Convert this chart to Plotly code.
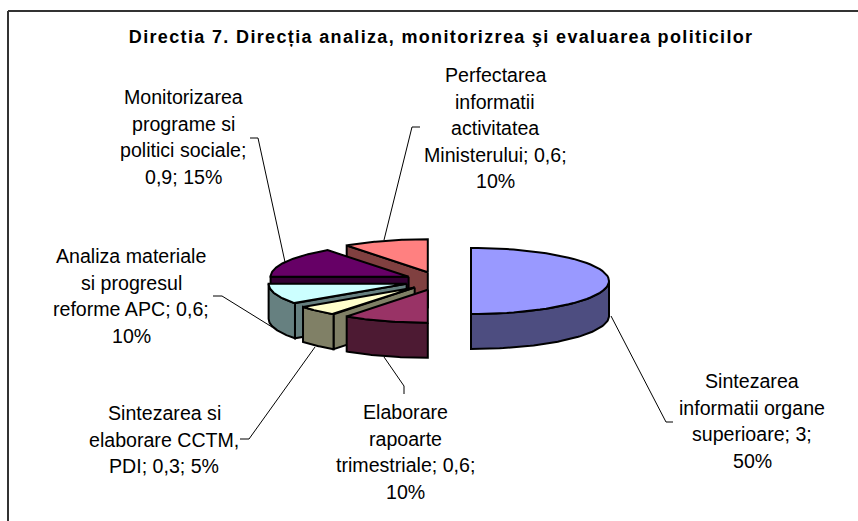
import math
import plotly.graph_objects as go

# ---- data ----
names = ["Sintezarea informatii organe superioare", "Elaborare rapoarte trimestriale",
         "Sintezarea si elaborare CCTM, PDI", "Analiza materiale si progresul reforme APC",
         "Monitorizarea programe si politici sociale", "Perfectarea informatii activitatea Ministerului"]
values = [3, 0.6, 0.3, 0.6, 0.9, 0.6]
top_colors = ["#9999FF", "#993366", "#FFFFCC", "#CCFFFF", "#660066", "#FF8080"]
side_colors = ["#4D4D80", "#4D1A33", "#808066", "#668080", "#330033", "#804040"]
label_lines = [
    ["Sintezarea", "informatii organe", "superioare; 3;", "50%"],
    ["Elaborare", "rapoarte", "trimestriale; 0,6;", "10%"],
    ["Sintezarea si", "elaborare CCTM,", "PDI; 0,3; 5%"],
    ["Analiza materiale", "si progresul", "reforme APC; 0,6;", "10%"],
    ["Monitorizarea", "programe si", "politici sociale;", "0,9; 15%"],
    ["Perfectarea", "informatii", "activitatea", "Ministerului; 0,6;", "10%"],
]
title_text = "Directia 7. Direcția analiza, monitorizrea şi evaluarea politicilor"

# ---- layout settings ----
W, H = 858, 521
CX, CY = 438, 281      # pie centre in pixels
RX, RY = 138, 33       # ellipse radii
DEPTH = 35             # wall height
EXPLODE = 33           # explosion distance
EXPLODE_Y = 0.28
FONT = "Liberation Sans"
LABEL_SIZE = 19.6
LINE_H = 26.6
label_pos = [(752, 381), (405, 412), (164, 413), (131, 256), (183, 97), (495, 75)]
leaders = [
    [(611, 316), (666, 422), (673, 422)],
    [(384, 357), (404, 386), (404, 394)],
    [(315, 347), (249, 439), (240, 439)],
    [(272, 327), (222, 296), (213, 296)],
    [(285, 262), (258, 138), (250, 138)],
    [(384, 240), (412, 127), (420, 127)],
]

total = sum(values)
fig = go.Figure()

def pt(cx, cy, deg):
    a = math.radians(deg)
    return cx + RX * math.sin(a), cy - RY * math.cos(a)

def poly(xs, ys, color):
    fig.add_trace(go.Scatter(x=xs + xs[:1], y=ys + ys[:1], mode="lines", fill="toself",
                             fillcolor=color, line=dict(color="black", width=2),
                             hoverinfo="skip", showlegend=False))

def arc(cx, cy, a0, a1, n=60):
    pts = [pt(cx, cy, a0 + (a1 - a0) * i / n) for i in range(n + 1)]
    return [p[0] for p in pts], [p[1] for p in pts]

# slice angles, clockwise from 12 o'clock
slices = []
start = 0.0
for v in values:
    end = start + 360 * v / total
    slices.append((start, end))
    start = end

def draw(i):
    a0, a1 = slices[i]
    mid = math.radians((a0 + a1) / 2)
    cx = CX + EXPLODE * math.sin(mid)
    cy = CY - EXPLODE * EXPLODE_Y * math.cos(mid)
    side = side_colors[i]
    # cut face on the clockwise-start edge when it faces the viewer
    if 180 < a0 < 360:
        ox, oy = pt(cx, cy, a0)
        poly([cx, ox, ox, cx], [cy, oy, oy + DEPTH, cy + DEPTH], side)
    # outer wall for the part of the rim at the front
    lo, hi = max(a0, 90), min(a1, 270)
    if lo < hi:
        xs, ys = arc(cx, cy, lo, hi)
        poly(xs + xs[::-1], ys + [y + DEPTH for y in ys[::-1]], side)
    xs, ys = arc(cx, cy, a0, a1)
    poly([cx] + xs, [cy] + ys, top_colors[i])

# painter's order: back to front
for i in [5, 4, 3, 2, 1, 0]:
    draw(i)

shapes = [
    dict(type="line", xref="x", yref="y", x0=8, y0=11, x1=858, y1=11, line=dict(color="#333333", width=2)),
    dict(type="line", xref="x", yref="y", x0=8, y0=11, x1=8, y1=521, line=dict(color="#333333", width=2)),
]
for pts in leaders:
    for p, q in zip(pts, pts[1:]):
        shapes.append(dict(type="line", xref="x", yref="y", x0=p[0], y0=p[1], x1=q[0], y1=q[1],
                           line=dict(color="black", width=1)))

annotations = [dict(text=title_text, x=441, y=37, xref="x", yref="y", showarrow=False,
                    font=dict(family=FONT, size=18, color="black", weight="bold"))]
for lines, (x, y) in zip(label_lines, label_pos):
    for j, t in enumerate(lines):
        annotations.append(dict(text=t, x=x, y=y + j * LINE_H, xref="x", yref="y", showarrow=False,
                                font=dict(family=FONT, size=LABEL_SIZE, color="black")))

fig.update_layout(
    width=W, height=H, margin=dict(l=0, r=0, t=0, b=0),
    paper_bgcolor="white", plot_bgcolor="white", showlegend=False,
    xaxis=dict(range=[0, W], visible=False, fixedrange=True),
    yaxis=dict(range=[H, 0], visible=False, fixedrange=True),
    shapes=shapes, annotations=annotations,
)
post = """
document.body.style.margin='0';
document.body.style.overflow='hidden';
function spaceTitle(){
  var t=document.querySelector('.annotation-text');
  if(t){t.style.letterSpacing='1.35px';}
}
spaceTitle();setTimeout(spaceTitle,30);setTimeout(spaceTitle,200);
"""
fig.write_html("out.html", post_script=post, config={"displayModeBar": False})
